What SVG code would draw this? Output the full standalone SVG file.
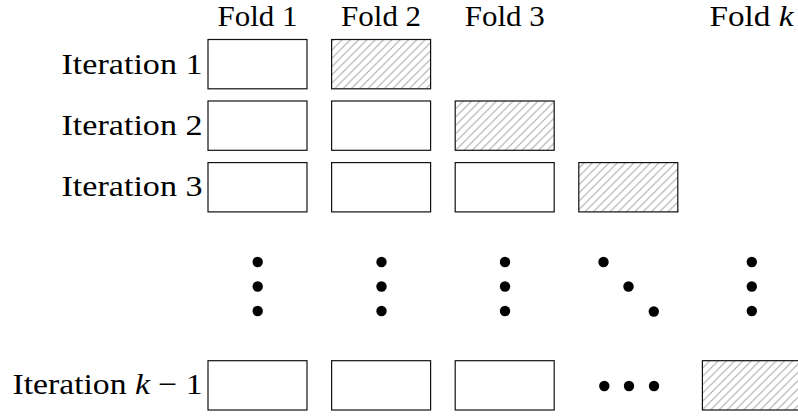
<svg xmlns="http://www.w3.org/2000/svg" width="798" height="417" viewBox="0 0 798 417">
  <style>
    .lbl { font-family: "Liberation Serif", "Times New Roman", serif; font-size: 30px; fill: #000; }
    .fold { text-anchor: middle; font-size: 29px; }
    .iter { text-anchor: end; }
    .box { fill: #fff; stroke: #111; stroke-width: 1.2; }
    .test { fill: url(#hatch); stroke: #111; stroke-width: 1.2; }
    .dot { fill: #000; }
  </style>
  <defs>
    <pattern id="hatch" patternUnits="userSpaceOnUse" width="8.3" height="8.3">
      <rect width="8.3" height="8.3" fill="#fff"/>
      <path d="M-1,1 L1,-1 M0,8.3 L8.3,0 M7.3,9.3 L9.3,7.3" stroke="#a6a6a6" stroke-width="1"/>
    </pattern>
  </defs>

  <!-- column headers -->
  <g id="headers">
    <text class="lbl fold" x="257.5" y="26" textLength="80" lengthAdjust="spacingAndGlyphs">Fold 1</text>
    <text class="lbl fold" x="381.1" y="26" textLength="80" lengthAdjust="spacingAndGlyphs">Fold 2</text>
    <text class="lbl fold" x="504.7" y="26" textLength="80" lengthAdjust="spacingAndGlyphs">Fold 3</text>
    <text class="lbl fold" x="751.5" y="26" textLength="84" lengthAdjust="spacingAndGlyphs">Fold <tspan font-style="italic">k</tspan></text>
  </g>

  <!-- iteration 1 -->
  <g id="iter1">
    <text class="lbl iter" x="202.5" y="74" textLength="141" lengthAdjust="spacingAndGlyphs">Iteration 1</text>
    <rect class="box" x="208" y="39.5" width="99" height="49.3"/>
    <rect class="test" x="331.6" y="39.5" width="99" height="49.3"/>
  </g>

  <!-- iteration 2 -->
  <g id="iter2">
    <text class="lbl iter" x="202.5" y="134.5" textLength="141" lengthAdjust="spacingAndGlyphs">Iteration 2</text>
    <rect class="box" x="208" y="101" width="99" height="49.3"/>
    <rect class="box" x="331.6" y="101" width="99" height="49.3"/>
    <rect class="test" x="455.2" y="101" width="99" height="49.3"/>
  </g>

  <!-- iteration 3 -->
  <g id="iter3">
    <text class="lbl iter" x="202.5" y="196" textLength="141" lengthAdjust="spacingAndGlyphs">Iteration 3</text>
    <rect class="box" x="208" y="162.6" width="99" height="49.3"/>
    <rect class="box" x="331.6" y="162.6" width="99" height="49.3"/>
    <rect class="box" x="455.2" y="162.6" width="99" height="49.3"/>
    <rect class="test" x="578.8" y="162.6" width="99" height="49.3"/>
  </g>

  <!-- ellipsis dots -->
  <g id="ellipsis">
    <circle class="dot" cx="257.7" cy="262" r="5.2"/>
    <circle class="dot" cx="257.7" cy="286.5" r="5.2"/>
    <circle class="dot" cx="257.7" cy="311" r="5.2"/>
    <circle class="dot" cx="381.5" cy="262" r="5.2"/>
    <circle class="dot" cx="381.5" cy="286.5" r="5.2"/>
    <circle class="dot" cx="381.5" cy="311" r="5.2"/>
    <circle class="dot" cx="505" cy="262" r="5.2"/>
    <circle class="dot" cx="505" cy="286.5" r="5.2"/>
    <circle class="dot" cx="505" cy="311" r="5.2"/>
    <circle class="dot" cx="603.5" cy="262" r="5.2"/>
    <circle class="dot" cx="628.5" cy="286.5" r="5.2"/>
    <circle class="dot" cx="653.8" cy="311.5" r="5.2"/>
    <circle class="dot" cx="751.8" cy="262" r="5.2"/>
    <circle class="dot" cx="751.8" cy="286.5" r="5.2"/>
    <circle class="dot" cx="751.8" cy="311" r="5.2"/>
  </g>

  <!-- iteration k-1 -->
  <g id="iterk1">
    <text class="lbl iter" x="202.5" y="393.5" textLength="190" lengthAdjust="spacingAndGlyphs">Iteration <tspan font-style="italic">k</tspan> − 1</text>
    <rect class="box" x="208" y="360.7" width="99" height="49.3"/>
    <rect class="box" x="331.6" y="360.7" width="99" height="49.3"/>
    <rect class="box" x="455.2" y="360.7" width="99" height="49.3"/>
    <circle class="dot" cx="604.3" cy="386" r="5.2"/>
    <circle class="dot" cx="629" cy="386" r="5.2"/>
    <circle class="dot" cx="654" cy="386" r="5.2"/>
    <rect class="test" x="702.4" y="360.7" width="99" height="49.3"/>
  </g>
</svg>
